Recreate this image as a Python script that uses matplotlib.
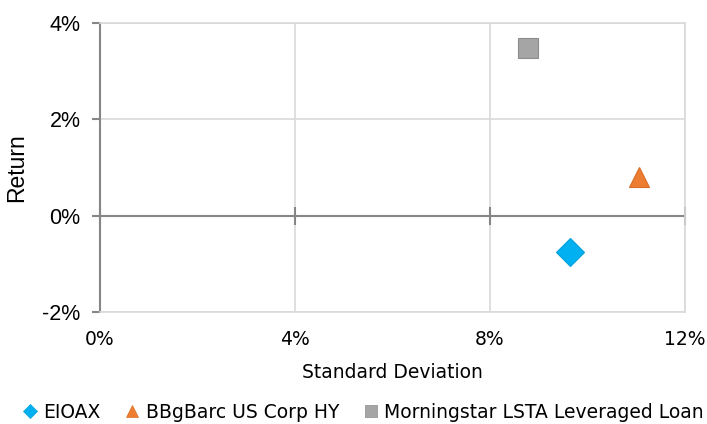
import matplotlib
matplotlib.use("Agg")
import matplotlib.pyplot as plt
from matplotlib.ticker import FuncFormatter

names = ["EIOAX", "BBgBarc US Corp HY", "Morningstar LSTA Leveraged Loan"]
std_dev = [9.65, 11.05, 8.78]
returns = [-0.75, 0.80, 3.48]
markers = ["D", "^", "s"]
colors = ["#00b0f0", "#ed7d31", "#a5a5a5"]
edges = ["#00a0dc", "#d86e24", "#8c8c8c"]
sizes = [14, 15, 15]
xticks = [0, 4, 8, 12]
yticks = [-2, 0, 2, 4]

plt.rcParams["font.family"] = ["DejaVu Sans"]
plt.rcParams["font.size"] = 13.5

fig = plt.figure(figsize=(7.07, 4.24), dpi=100)
ax = fig.add_axes([100/707, 1-312/424, 585/707, 289/424])
ax.set_xlim(0, 12)
ax.set_ylim(-2, 4)

ax.set_xticks(xticks)
ax.set_yticks(yticks)
ax.grid(True, color="#d9d9d9", lw=1.2, zorder=0)
ax.set_axisbelow(True)

for s in ["top", "right", "bottom"]:
    ax.spines[s].set_color("#d9d9d9")
    ax.spines[s].set_linewidth(1.2)
ax.spines["left"].set_color("#868686")
ax.spines["left"].set_linewidth(1.5)

pct = FuncFormatter(lambda v, p: f"{v:.0f}%")
ax.xaxis.set_major_formatter(pct)
ax.yaxis.set_major_formatter(pct)
ax.tick_params(axis="x", length=0, pad=13, labelsize=13.5)
ax.tick_params(axis="y", length=6, width=1.5, color="#868686", pad=8, labelsize=15.5,
               direction="out")
ax.yaxis.set_tick_params(which="major", labelfontfamily="Liberation Sans")

ax.axhline(0, color="#868686", lw=1.5, zorder=1)
ax.plot(xticks, [0] * len(xticks), linestyle="none", marker="|", markersize=13,
        markeredgewidth=1.5, color="#868686", clip_on=False, zorder=2)

handles = []
for n, x, y, m, c, e, s in zip(names, std_dev, returns, markers, colors, edges, sizes):
    ax.plot([x], [y], linestyle="none", marker=m, markersize=s, color=c,
            markeredgecolor=e, markeredgewidth=0.8, zorder=5)
    h, = ax.plot([], [], linestyle="none", marker=m, markersize=8 if m != "D" else 7,
                 color=c, markeredgecolor=e, markeredgewidth=0.5, label=n)
    handles.append(h)

ax.set_xlabel("Standard Deviation", fontsize=13.5, labelpad=10)
ax.set_ylabel("Return", fontsize=16.5, fontfamily="Liberation Sans", labelpad=10)

leg = fig.legend(handles=handles, loc="center", bbox_to_anchor=(364/707, 1-412/424),
                 ncol=3, frameon=False, handlelength=0.6, handletextpad=0.4,
                 columnspacing=1.4, prop={"size": 13.5})

fig.savefig("out.png", dpi=100)
